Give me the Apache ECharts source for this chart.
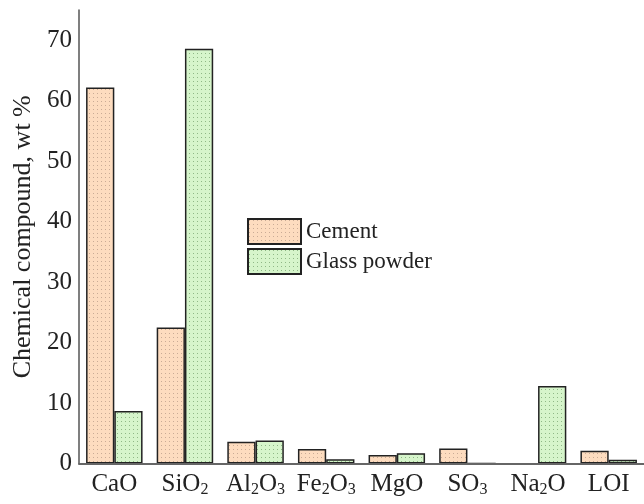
<!DOCTYPE html>
<html><head><meta charset="utf-8">
<script src="https://cdn.jsdelivr.net/npm/echarts@6/dist/echarts.min.js"></script>
<style>html,body{margin:0;padding:0;background:#fff}#c{width:644px;height:504px}</style>
</head><body><div id="c"></div>
<script>
const categories = ['CaO','SiO{s|2}','Al{s|2}O{s|3}','Fe{s|2}O{s|3}','MgO','SO{s|3}','Na{s|2}O','LOI'];
const cement = [62.2, 22.5, 3.6, 2.4, 1.4, 2.5, -0.2, 2.1];
const glass = [8.7, 68.6, 3.8, 0.7, 1.7, 0, 12.8, 0.6];
const yTicks = [0,10,20,30,40,50,60,70];

function pattern(bg, dot){
  const c = document.createElement('canvas');
  c.width = 4; c.height = 4;
  const x = c.getContext('2d');
  x.fillStyle = bg; x.fillRect(0,0,4,4);
  x.fillStyle = dot; x.fillRect(1,1,1,1);
  return {image: c, repeat: 'repeat'};
}
const font = 'Liberation Serif';
const chart = echarts.init(document.getElementById('c'), null, {renderer:'canvas'});
chart.setOption({
  animation:false,
  grid:{left:79, top:10, width:565, height:453.5, containLabel:false},
  legend:{
    orient:'vertical', left:247, top:218, padding:0, itemWidth:53, itemHeight:25, itemGap:3,
    icon:'rect',
    textStyle:{fontFamily:font, fontSize:23, color:'#222'},
    data:['Cement','Glass powder']
  },
  xAxis:{
    type:'category', data:categories, z:5,
    axisLine:{lineStyle:{color:'#666', width:2}},
    axisTick:{inside:true, length:6, alignWithLabel:true, lineStyle:{color:'#444', width:1.5}},
    axisLabel:{fontFamily:font, fontSize:25, color:'#222', margin:8, interval:0,
      rich:{s:{fontFamily:font, fontSize:16, color:'#222', verticalAlign:'bottom', padding:[10,0,0,0]}}}
  },
  yAxis:{
    type:'value', min:0, max:75, interval:10, z:5,
    name:'Chemical compound, wt %', nameLocation:'middle', nameGap:41,
    nameTextStyle:{fontFamily:font, fontSize:26, color:'#222'},
    axisLine:{show:true, lineStyle:{color:'#555', width:1.5}},
    axisTick:{inside:true, length:8, lineStyle:{color:'#444', width:1.5}},
    axisLabel:{fontFamily:font, fontSize:25, color:'#222', margin:7,
      formatter:v=> yTicks.indexOf(v) >= 0 ? String(v) : ''},
    splitLine:{show:false}
  },
  series:[
    {name:'Cement', type:'bar', data:cement, barWidth:'40%', barGap:'0%',
     itemStyle:{color:pattern('#fddcbf','#c9ab95'), borderColor:'#222', borderWidth:1.5}},
    {name:'Glass powder', type:'bar', data:glass, barWidth:'40%', barGap:'0%',
     itemStyle:{color:pattern('#d6f5cb','#8fb886'), borderColor:'#222', borderWidth:1.5}}
  ]
});
</script></body></html>
